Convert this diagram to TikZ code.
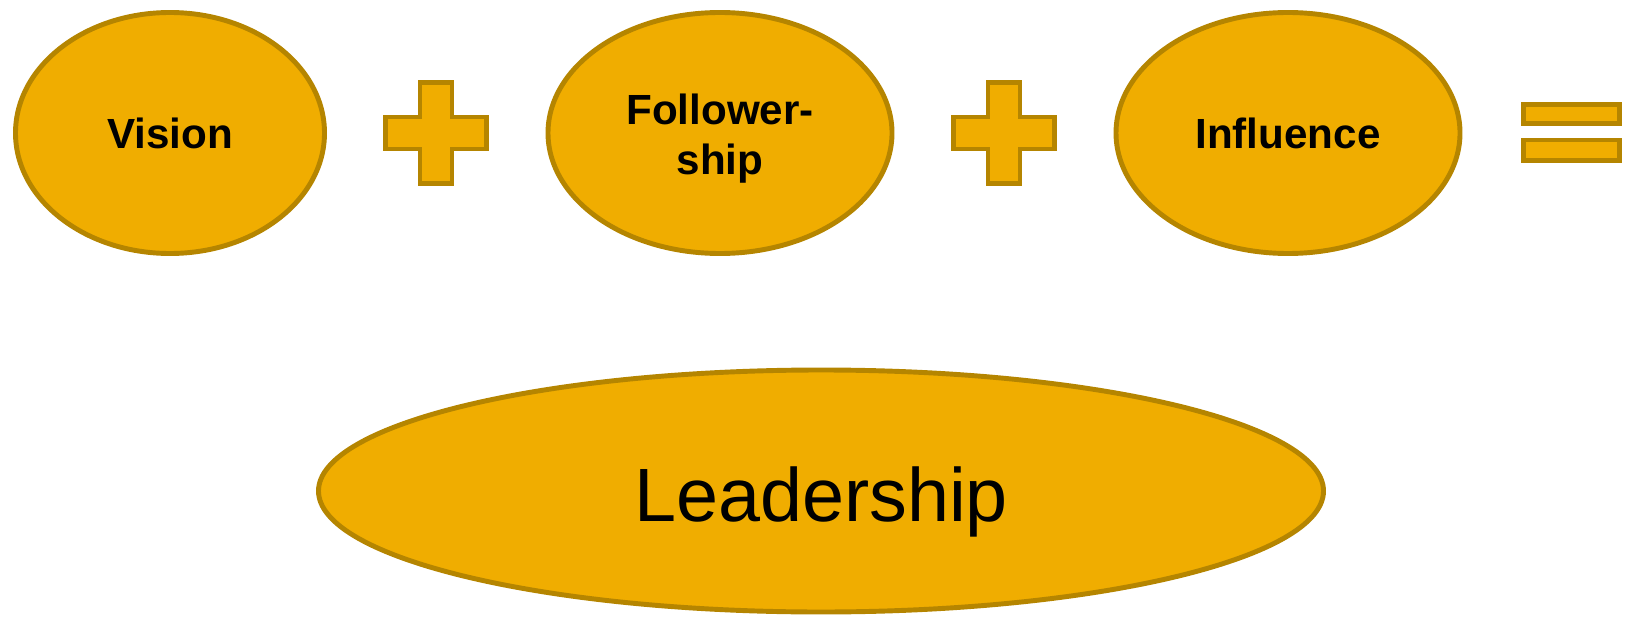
\documentclass[tikz,border=0pt]{standalone}
\usepackage{fontspec}
\setmainfont{Liberation Sans}
\usepackage{tikz}
\usetikzlibrary{shapes.geometric,positioning}

\definecolor{gold}{HTML}{F0AD00}
\definecolor{goldline}{HTML}{B58500}

\begin{document}
\begin{tikzpicture}[
  every node/.style={inner sep=0pt},
  blob/.style={
    ellipse, draw=goldline, fill=gold, line width=2.8pt,
    minimum width=6.88cm, minimum height=4.82cm,
    align=center, font=\fontsize{24}{28.5}\selectfont\bfseries,
  },
  sign/.style={draw=goldline, fill=gold, line width=2.8pt},
]
  \useasboundingbox (0,0) rectangle (32.54,12.32);
  % the three ingredients
  \node[blob, minimum width=6.18cm] (vision) at (3.40,9.66) {Vision};
  \node[blob] (follow) at (14.40,9.66) {\rule{0pt}{24pt}Follower-\\ship};
  \node[blob] (influence) at (25.76,9.66) {Influence};
  % plus signs between them
  \foreach \cx in {8.72,20.08}
    \draw[sign] (\cx-0.32,9.66+1.01) -- (\cx+0.32,9.66+1.01) -- (\cx+0.32,9.66+0.32)
      -- (\cx+1.01,9.66+0.32) -- (\cx+1.01,9.66-0.32) -- (\cx+0.32,9.66-0.32)
      -- (\cx+0.32,9.66-1.01) -- (\cx-0.32,9.66-1.01) -- (\cx-0.32,9.66-0.32)
      -- (\cx-1.01,9.66-0.32) -- (\cx-1.01,9.66+0.32) -- (\cx-0.32,9.66+0.32) -- cycle;
  % equals sign
  \draw[sign] (30.47,9.85) rectangle (32.39,10.23);
  \draw[sign] (30.47,9.11) rectangle (32.39,9.52);
  % result
  \node[blob, minimum width=20.1cm, minimum height=4.84cm,
        text height=35pt, text depth=0pt,
        font=\fontsize{43}{50}\selectfont] (lead) at (16.42,2.50) {Leadership};
\end{tikzpicture}
\end{document}
